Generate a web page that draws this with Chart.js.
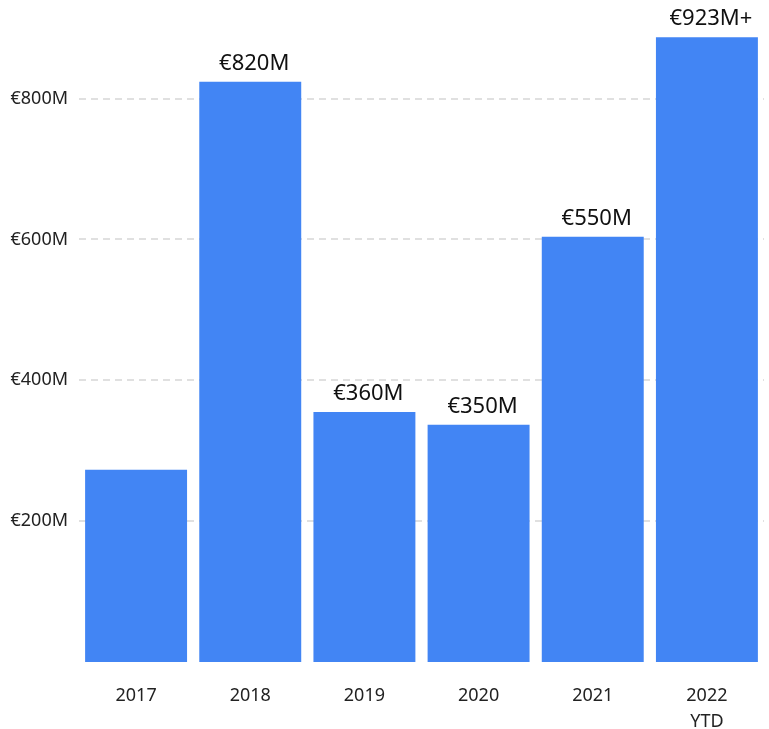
<!DOCTYPE html>
<html>
<head>
<meta charset="utf-8">
<script src="https://cdn.jsdelivr.net/npm/chart.js@4"></script>
<style>
  html, body { margin: 0; padding: 0; background: #fff; }
  #wrap { width: 769px; height: 729px; }
</style>
</head>
<body>
<div id="wrap"><canvas id="barChart"></canvas></div>
<script>
// values (in millions of euro)
const years = ["2017", "2018", "2019", "2020", "2021", ["2022", "YTD"]];
const amounts = [273, 824, 355, 337, 604, 887];
// the text printed above each bar
const barLabels = ["", "€820M", "€360M", "€350M", "€550M", "€923M+"];
const yTicks = [200, 400, 600, 800];

const FONT = "'Noto Sans', sans-serif";

// writes the labels above the bars
const topLabels = {
    id: "topLabels",
    afterDatasetsDraw(chart) {
        const ctx = chart.ctx;
        const meta = chart.getDatasetMeta(0);
        ctx.save();
        ctx.font = "22px " + FONT;
        ctx.fillStyle = "#111";
        ctx.textAlign = "center";
        ctx.textBaseline = "alphabetic";
        meta.data.forEach(function (bar, i) {
            if (barLabels[i]) ctx.fillText(barLabels[i], bar.x + 4, bar.y - 12);
        });
        ctx.restore();
    }
};

const ctx = document.getElementById("barChart").getContext("2d");
new Chart(ctx, {
    type: "bar",
    data: {
        labels: years,
        datasets: [{
            data: amounts,
            backgroundColor: "#4285F4",
            borderWidth: 0,
            categoryPercentage: 1,
            barPercentage: 0.893
        }]
    },
    options: {
        responsive: true,
        maintainAspectRatio: false,
        animation: false,
        layout: { padding: { top: 0, right: 5, bottom: 0, left: 0 } },
        plugins: { legend: { display: false }, tooltip: { enabled: false } },
        scales: {
            x: {
                grid: { display: false, drawTicks: false },
                border: { display: false },
                ticks: {
                    color: "#222",
                    font: { family: FONT, size: 18, lineHeight: 1.444 },
                    padding: 21,
                    maxRotation: 0
                },
                afterFit(scale) {
                    scale.height = 67;
                    scale.paddingLeft = 0;
                    scale.paddingRight = 0;
                }
            },
            y: {
                min: 0,
                max: 940,
                grid: {
                    color: "#e0e0e0",
                    lineWidth: 2,
                    drawTicks: false
                },
                border: { display: false, dash: [7, 5] },
                ticks: {
                    color: "#222",
                    font: { family: FONT, size: 18 },
                    padding: 11,
                    callback: function (v) { return "€" + v + "M"; }
                },
                afterBuildTicks(scale) {
                    scale.ticks = yTicks.map(function (v) { return { value: v }; });
                },
                afterFit(scale) {
                    scale.width = 79;
                    scale.paddingTop = 0;
                    scale.paddingBottom = 0;
                }
            }
        }
    },
    plugins: [topLabels]
});
</script>
</body>
</html>
